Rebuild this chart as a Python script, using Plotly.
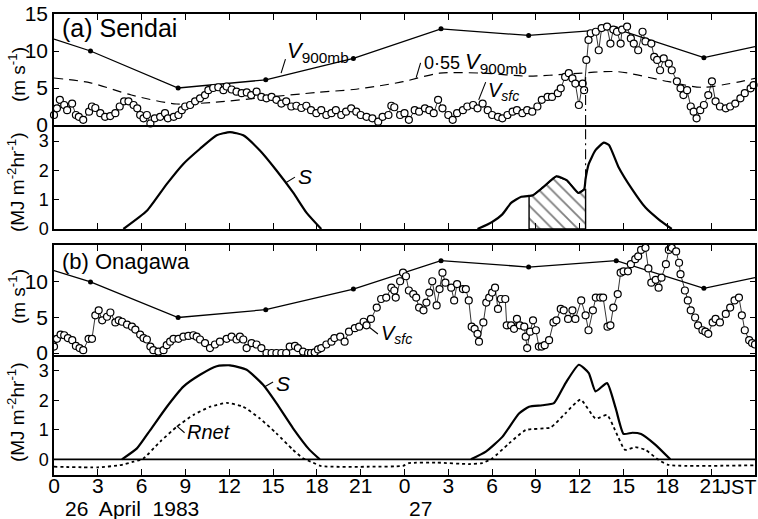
import plotly.graph_objects as go

# ---------------- data ----------------
tick_hours = [0, 3, 6, 9, 12, 15, 18, 21, 24, 27, 30, 33, 36, 39, 42, 45]
tick_text = ['0', '3', '6', '9', '12', '15', '18', '21', '0', '3', '6', '9', '12', '15', '18', '21']

sounding_hours = [0, 2.5, 8.5, 14.5, 20.5, 26.5, 32.5, 38.5, 44.5, 48]
v900 = [11.6, 10.0, 5.0, 6.1, 9.0, 13.0, 12.1, 13.0, 9.1, 10.6]

v055_hours = [0, 2.5, 5.3, 8.4, 11.1, 14.5, 18.0, 20.5, 22.3, 23.9, 26.4, 29.4, 32.5, 35.3, 38.6, 42.1, 44.4, 48]
v055 = [6.35, 5.7, 4.05, 2.84, 3.1, 3.74, 4.4, 4.8, 5.3, 5.85, 7.0, 7.0, 6.6, 6.9, 7.2, 5.85, 5.1, 6.3]

sendai_vsfc_hours = [
    0.0, 0.2, 0.4, 0.7, 0.9, 1.24, 1.5, 1.7, 2.0, 2.4, 2.6, 2.83, 3.17, 3.5, 3.85, 4.2, 4.5, 4.8, 5.1, 5.45,
    5.7, 5.9, 6.13, 6.36, 6.6, 6.9, 7.27, 7.6, 7.8, 8.2, 8.52, 8.75, 8.98, 9.32, 9.66, 10.0, 10.34, 10.57, 10.9, 11.25,
    11.6, 11.82, 12.16, 12.5, 12.85, 13.2, 13.5, 13.87, 14.2, 14.55, 14.9, 15.23, 15.57, 15.9, 16.25, 16.6, 16.94, 17.28, 17.6, 17.96,
    18.3, 18.65, 19.0, 19.3, 19.67, 20.0, 20.35, 20.7, 21.0, 21.4,
    21.8, 22.2, 22.5, 22.9, 23.1, 23.3, 23.7, 24.0, 24.3, 24.7, 25.0, 25.4, 25.7, 26.0, 26.3, 26.6, 27.0, 27.3, 27.6, 28.0,
    28.3, 28.7, 29.0, 29.35, 29.7, 30.0, 30.4, 30.7, 31.05, 31.4, 31.7, 32.07, 32.4, 32.75, 33.1, 33.4, 33.8, 34.1, 34.5, 34.7,
    35.0, 35.25, 35.5, 35.7, 35.94, 36.2, 36.3, 36.45, 36.6, 36.75, 37.1, 37.3, 37.5, 37.87, 38.1, 38.3, 38.55, 38.8, 38.9, 39.24,
    39.5, 39.7, 40.0, 40.3, 40.5, 40.9, 41.1, 41.3, 41.5, 41.75, 42.1, 42.3, 42.65, 42.9, 43.1, 43.35, 43.6, 43.8, 44.0, 44.25,
    44.5, 44.8, 45.05, 45.3, 45.6, 46.0, 46.3, 46.65, 47.0, 47.3, 47.7, 47.9]
sendai_vsfc = [
    1.35, 2.25, 3.4, 2.7, 2.0, 2.9, 1.35, 1.1, 0.7, 1.8, 2.5, 2.3, 1.6, 1.1, 1.2, 1.6, 2.5, 3.2, 3.2, 2.7,
    2.25, 1.35, 0.9, 1.35, 0.2, 0.9, 1.1, 1.6, 0.9, 1.1, 1.35, 2.0, 2.5, 2.7, 3.2, 3.6, 4.05, 4.7, 5.0, 5.1,
    4.7, 5.2, 4.8, 4.5, 4.3, 4.4, 4.05, 4.5, 3.8, 3.6, 3.8, 3.4, 2.9, 3.2, 2.5, 2.6, 2.3, 2.6, 2.0, 1.6,
    2.0, 1.35, 1.6, 2.0, 1.35, 1.8, 2.25, 1.8, 1.35, 1.1,
    0.9, 0.45, 1.1, 1.35, 2.6, 2.4, 1.35, 1.6, 0.7, 2.0, 1.8, 2.25, 2.0, 1.6, 3.4, 2.25, 1.35, 0.7, 1.6, 2.0,
    2.5, 2.7, 2.25, 2.9, 2.0, 1.35, 1.1, 0.9, 1.35, 1.8, 2.0, 1.6, 2.0, 1.8, 2.5, 3.4, 3.8, 3.8, 4.3, 4.95,
    6.5, 7.0, 6.3, 5.6, 2.7, 5.6, 4.7, 8.8, 11.5, 12.4, 12.6, 10.1, 13.1, 13.3, 11.0, 12.9, 12.6, 11.0, 12.9, 13.3,
    11.7, 11.0, 10.1, 12.6, 11.3, 11.0, 9.2, 8.8, 7.4, 9.0, 8.3, 7.4, 5.9, 4.95, 4.05, 4.7, 2.5, 1.8, 0.9, 2.0,
    2.7, 4.05, 5.9, 3.2, 2.5, 2.25, 2.5, 2.9, 3.6, 4.3, 4.95, 5.4]

onagawa_vsfc_hours = [
    0.0, 0.2, 0.45, 0.7, 0.95, 1.25, 1.5, 1.75, 2.0, 2.37, 2.6, 2.83, 3.06, 3.3, 3.63, 3.86, 4.2, 4.43, 4.66, 5.0,
    5.34, 5.57, 5.9, 6.13, 6.36, 6.6, 6.8, 7.15, 7.5, 7.72, 7.95, 8.18, 8.52, 8.86, 9.2, 9.54, 9.77, 10.0, 10.34, 10.68,
    11.02, 11.36, 11.82, 12.16, 12.5, 12.73, 12.96, 13.19, 13.53, 13.87, 14.2, 14.55, 14.9, 15.23, 15.57, 15.9, 16.14, 16.5, 16.7, 17.05,
    17.4, 17.6, 17.85, 18.08, 18.3, 18.65, 19.0, 19.2, 19.6, 19.9, 20.2, 20.6, 20.9, 21.2, 21.4,
    21.7, 22.1, 22.4, 22.75, 23.1, 23.3, 23.4, 23.7, 23.9, 24.1, 24.3, 24.6, 24.8, 25.0, 25.3, 25.5, 25.7, 25.9, 26.2, 26.4,
    26.6, 26.8, 27.2, 27.4, 27.6, 28.0, 28.2, 28.4, 28.6, 28.8, 29.0, 29.1, 29.4, 29.6, 29.8, 30.0, 30.2, 30.4, 30.6, 30.9,
    31.0, 31.3, 31.5, 31.7, 31.9, 32.2, 32.3, 32.4, 32.6, 32.8, 33.0, 33.2, 33.4, 33.6, 33.9, 34.2, 34.4, 34.7, 34.9, 35.2,
    35.5, 35.7, 36.1, 36.4, 36.6, 36.9, 37.1, 37.4, 37.6, 37.9, 38.1, 38.3, 38.6, 38.8, 39.0, 39.3, 39.5, 39.8, 40.0, 40.2,
    40.5, 40.7, 40.9, 41.2, 41.4, 41.6, 41.9, 42.1, 42.3, 42.6, 42.8, 42.9, 43.2, 43.4, 43.6, 43.9, 44.1, 44.4, 44.6, 44.8,
    45.1, 45.3, 45.6, 46.0, 46.3, 46.6, 46.9, 47.1, 47.3, 47.6, 47.8, 48.0]
onagawa_vsfc = [
    0.9, 2.0, 2.6, 2.5, 2.1, 1.8, 1.0, 0.7, 0.4, 2.0, 2.0, 5.3, 6.0, 4.6, 5.1, 5.7, 4.3, 4.6, 4.4, 4.0,
    3.7, 3.3, 2.6, 2.1, 1.9, 0.9, 0.4, 0.2, 0.4, 1.1, 1.6, 2.0, 2.0, 2.3, 2.4, 2.5, 2.3, 1.9, 1.4, 0.7,
    1.2, 1.6, 2.0, 2.3, 1.9, 2.3, 1.9, 0.7, 1.4, 1.2, 0.7, 0.0, 0.0, 0.0, 0.0, 0.0, 0.9, 1.0, 0.7, 0.2,
    0.0, 0.0, 0.1, 0.5, 0.7, 1.2, 1.6, 2.1, 2.3, 1.6, 3.0, 3.5, 3.7, 4.4, 3.9,
    4.8, 6.4, 7.6, 7.8, 9.2, 8.8, 7.8, 10.1, 11.3, 10.8, 8.8, 8.3, 7.8, 6.4, 6.0, 7.1, 8.5, 10.1, 6.7, 9.0,
    11.3, 9.9, 9.2, 7.4, 9.7, 9.0, 9.0, 7.4, 3.7, 3.4, 2.7, 1.6, 4.3, 7.1, 7.8, 8.5, 9.2, 6.2, 7.6, 7.6,
    3.9, 3.9, 3.4, 4.8, 3.9, 3.7, 2.3, 0.7, 3.0, 4.6, 3.2, 0.9, 0.9, 1.1, 1.8, 4.3, 4.6, 6.2, 6.0, 4.8,
    6.0, 4.8, 7.4, 5.3, 3.2, 6.0, 7.8, 7.8, 7.8, 3.7, 3.9, 6.4, 8.3, 11.3, 11.5, 11.5, 12.5, 13.2, 13.6, 14.5,
    14.8, 11.9, 9.9, 10.3, 9.2, 10.6, 12.5, 14.5, 14.8, 14.3, 12.7, 11.1, 8.8, 7.4, 6.0, 5.0, 3.9, 3.2, 3.0, 2.7,
    4.3, 4.8, 4.3, 5.5, 6.4, 7.4, 7.8, 5.3, 3.2, 1.8, 1.4, 1.2]

# solar radiation S (daylight only; None separates the two days)
sendai_s_hours = [4.75, 6.36, 7.73, 8.87, 10.0, 11.14, 12.05, 12.96, 14.1, 15.25, 16.38, 17.3, 18.3, None,
                  29.0, 30.0, 30.7, 31.3, 32.0, 32.53, 32.8, 33.5, 34.4, 35.1, 35.9, 36.3, 36.4, 36.6,
                  37.08, 37.65, 38.0, 38.67, 39.58, 40.5, 41.4, 42.3]
sendai_s = [0, 0.62, 1.54, 2.23, 2.74, 3.2, 3.31, 3.2, 2.68, 1.99, 1.24, 0.55, 0, None,
            0, 0.24, 0.5, 0.89, 1.1, 1.13, 1.15, 1.43, 1.8, 1.67, 1.23, 1.35, 1.72, 2.2,
            2.69, 2.95, 2.87, 2.1, 1.36, 0.73, 0.33, 0]
hatch_start, hatch_end = 32.53, 36.4

onagawa_s_hours = [4.65, 5.68, 6.59, 7.73, 8.86, 10.0, 11.14, 12.05, 13.19, 14.32, 15.23, 16.37, 17.5, 18.2, None,
                   28.55, 29.57, 30.7, 31.84, 32.53, 33.43, 34.23, 35.03, 35.94, 36.62, 37.08, 37.87, 38.46,
                   39.0, 39.6, 40.2, 41.17, 42.2]
onagawa_s = [0, 0.37, 0.99, 1.78, 2.46, 2.86, 3.15, 3.18, 3.03, 2.52, 1.9, 1.05, 0.32, 0, None,
             0, 0.26, 0.76, 1.55, 1.78, 1.83, 1.9, 2.58, 3.2, 2.92, 2.3, 2.58, 1.73,
             0.86, 0.9, 0.86, 0.5, 0]
s_night_hours = [0, 48]
s_night = [0, 0]

onagawa_rnet_hours = [0, 3.0, 4.5, 5.45, 6.1, 7.27, 8.4, 9.54, 10.7, 11.82, 12.95, 14.1, 15.23, 16.37, 17.05, 17.73,
                      18.3, 21.6, 23.9, 24.3, 26.2, 28.4, 29.3, 30.0, 31.16, 32.3, 34.0, 35.0, 36.05, 37.08,
                      37.87, 38.46, 39.1, 39.8, 40.5, 41.4, 42.1, 48]
onagawa_rnet = [-0.25, -0.27, -0.2, -0.08, 0.02, 0.6, 1.1, 1.5, 1.78, 1.91, 1.78, 1.38, 0.88, 0.32, 0.04, -0.11,
                -0.23, -0.25, -0.22, -0.13, -0.11, -0.16, -0.13, 0.03, 0.54, 0.99, 1.08, 1.55, 2.02, 1.38,
                1.5, 0.94, 0.32, 0.41, 0.32, -0.02, -0.19, -0.2]

# ---------------- figure ----------------
W, H = 758, 519
ML, MR, MT, MB = 54, 1, 14, 44
PW, PH = W - ML - MR, H - MT - MB


def fy(py):
    return (H - MB - py) / PH


def fx(px):
    return (px - ML) / PW


FONT = "Liberation Sans, Arial, sans-serif"
fig = go.Figure()

# --- Sendai wind (x / y) ---
fig.add_trace(go.Scatter(x=sounding_hours, y=v900, mode='lines', line=dict(color='black', width=1.3),
                         xaxis='x', yaxis='y'))
fig.add_trace(go.Scatter(x=sounding_hours[1:-1], y=v900[1:-1], mode='markers',
                         marker=dict(color='black', size=5), xaxis='x', yaxis='y'))
fig.add_trace(go.Scatter(x=v055_hours, y=v055, mode='lines', line=dict(color='black', width=1.2, dash='9px,6px',
                         shape='spline', smoothing=0.8), xaxis='x', yaxis='y'))
n = min(len(sendai_vsfc_hours), len(sendai_vsfc))
fig.add_trace(go.Scatter(x=sendai_vsfc_hours[:n], y=sendai_vsfc[:n], mode='lines+markers',
                         line=dict(color='black', width=0.8),
                         marker=dict(symbol='circle', color='white', size=7, line=dict(color='black', width=1.2)),
                         cliponaxis=False, xaxis='x', yaxis='y'))

# --- Sendai radiation (x2 / y2) ---
pairs = [(t, v) for t, v in zip(sendai_s_hours, sendai_s) if t is not None and hatch_start <= t < hatch_end]
hx = [p[0] for p in pairs]
hy = [p[1] for p in pairs]
fig.add_trace(go.Scatter(x=hx + [hatch_end, hatch_end, hatch_start, hatch_start], y=hy + [hy[-1], 0, 0, hy[0]],
                         mode='lines', fill='toself', line=dict(color='black', width=1.4),
                         fillpattern=dict(shape='\\', fgcolor='black', bgcolor='white', size=9, solidity=0.2),
                         xaxis='x2', yaxis='y2'))
fig.add_trace(go.Scatter(x=sendai_s_hours, y=sendai_s, mode='lines', connectgaps=False,
                         line=dict(color='black', width=2.2, shape='spline', smoothing=0.5),
                         xaxis='x2', yaxis='y2'))

# --- Onagawa wind (x3 / y3) ---
fig.add_trace(go.Scatter(x=sounding_hours, y=v900, mode='lines', line=dict(color='black', width=1.3),
                         xaxis='x3', yaxis='y3'))
fig.add_trace(go.Scatter(x=sounding_hours[1:-1], y=v900[1:-1], mode='markers',
                         marker=dict(color='black', size=5), xaxis='x3', yaxis='y3'))
m = min(len(onagawa_vsfc_hours), len(onagawa_vsfc))
fig.add_trace(go.Scatter(x=onagawa_vsfc_hours[:m], y=onagawa_vsfc[:m], mode='lines+markers',
                         line=dict(color='black', width=0.8),
                         marker=dict(symbol='circle', color='white', size=7, line=dict(color='black', width=1.2)),
                         xaxis='x3', yaxis='y3'))

# --- Onagawa radiation (x4 / y4) ---
fig.add_trace(go.Scatter(x=s_night_hours, y=s_night, mode='lines', line=dict(color='black', width=1.6),
                         xaxis='x4', yaxis='y4'))
fig.add_trace(go.Scatter(x=onagawa_s_hours, y=onagawa_s, mode='lines', connectgaps=False,
                         line=dict(color='black', width=2.2, shape='spline', smoothing=0.5),
                         xaxis='x4', yaxis='y4'))
fig.add_trace(go.Scatter(x=onagawa_rnet_hours, y=onagawa_rnet, mode='lines',
                         line=dict(color='black', width=1.8, dash='3px,3px', shape='spline', smoothing=0.5),
                         xaxis='x4', yaxis='y4'))

# ---------------- axes ----------------
dom_wa = [fy(125), fy(14)]
dom_ra = [fy(229), fy(125)]
dom_wb = [fy(355), fy(245)]
dom_rb = [fy(475), fy(355)]

xcommon = dict(range=[0, 48], tickvals=tick_hours, ticks='inside', ticklen=6, tickwidth=1.2, tickcolor='black',
               showline=True, linecolor='black', linewidth=1.5, showgrid=False, zeroline=False)
ycommon = dict(ticks='inside', ticklen=5, tickwidth=1.2, tickcolor='black', showline=True, linecolor='black',
               linewidth=1.5, mirror='ticks', showgrid=False, zeroline=False)

fig.update_layout(
    width=W, height=H, margin=dict(l=ML, r=MR, t=MT, b=MB),
    paper_bgcolor='white', plot_bgcolor='white', showlegend=False,
    font=dict(family=FONT, color='black'),
    xaxis=dict(xcommon, anchor='y', side='top', mirror=True, showticklabels=False),
    xaxis2=dict(xcommon, anchor='y2', matches='x', mirror=False, showticklabels=False),
    xaxis3=dict(xcommon, anchor='y3', matches='x', side='top', mirror=True, showticklabels=False),
    xaxis4=dict(xcommon, anchor='y4', matches='x', mirror=False, ticktext=tick_text,
                tickfont=dict(size=21), ticklabelstandoff=-9),
    yaxis=dict(ycommon, domain=dom_wa, anchor='x', range=[0, 15], tickvals=[0, 5, 10, 15], tickfont=dict(size=21)),
    yaxis2=dict(ycommon, domain=dom_ra, anchor='x2', range=[0, 3.55], tickvals=[0, 1, 2, 3], tickfont=dict(size=18)),
    yaxis3=dict(ycommon, domain=dom_wb, anchor='x3', range=[-0.28, 15.2], tickvals=[0, 5, 10], tickfont=dict(size=21)),
    yaxis4=dict(ycommon, domain=dom_rb, anchor='x4', range=[-0.53, 3.53], tickvals=[0, 1, 2, 3], tickfont=dict(size=18)),
)

# ---------------- shapes (leaders, dash-dot marker) ----------------
shapes = []


def seg(x0, y0, x1, y1, xr, yr, width=1.1, dash=None):
    d = dict(type='line', x0=x0, y0=y0, x1=x1, y1=y1, xref=xr, yref=yr,
             line=dict(color='black', width=width))
    if dash:
        d['line']['dash'] = dash
    shapes.append(d)


seg(36.4, 0, 36.4, 6.5, 'x', 'y', 1.1, '10px,4px,2px,4px')
seg(36.4, 1.7, 36.4, 3.55, 'x2', 'y2', 1.1, '10px,4px,2px,4px')
seg(15.55, 7.0, 15.85, 8.9, 'x', 'y')           # V900mb leader
seg(25.1, 8.4, 24.8, 6.4, 'x', 'y')             # 0.55 V900mb leader
seg(29.56, 5.8, 29.08, 3.4, 'x', 'y')           # Vsfc leader (Sendai)
seg(15.84, 1.57, 16.5, 1.77, 'x2', 'y2')        # S leader (Sendai)
seg(21.57, 3.66, 22.18, 2.68, 'x3', 'y3')       # Vsfc leader (Onagawa)
seg(14.4, 2.45, 15.0, 2.62, 'x4', 'y4')         # S leader (Onagawa)
seg(8.4, 1.13, 8.94, 0.9, 'x4', 'y4')           # Rnet leader
fig.update_layout(shapes=shapes)

# ---------------- annotations ----------------
ann = []


def txt(text, x, y, xr, yr, size, xanchor='left', angle=0, family=FONT):
    ann.append(dict(text=text, x=x, y=y, xref=xr, yref=yr, showarrow=False, xanchor=xanchor,
                    yanchor='middle', textangle=angle, font=dict(size=size, family=family, color='black')))


txt('(a) Sendai', fx(60), fy(28), 'paper', 'paper', 25)
txt('(b) Onagawa', fx(60), fy(261), 'paper', 'paper', 22)
txt('<i>V</i><sub>900mb</sub>', 15.8, 9.9, 'x', 'y', 22)
txt("<span style='font-size:18px'>0·55 </span><i>V</i><sub>900mb</sub>", 25.2, 8.4, 'x', 'y', 22)
txt('<i>V<sub>sfc</sub></i>', 29.6, 4.5, 'x', 'y', 20)
txt('<i>S</i>', 16.6, 1.8, 'x2', 'y2', 21)
txt('<i>V<sub>sfc</sub></i>', 22.25, 2.6, 'x3', 'y3', 20)
txt('<i>S</i>', 15.05, 2.55, 'x4', 'y4', 21)
txt('<i>Rnet</i>', 8.94, 0.93, 'x4', 'y4', 20)

txt('(m s<sup>-1</sup>)', fx(17), fy(75), 'paper', 'paper', 19, 'center', -90)
txt('(MJ m<sup>-2</sup>hr<sup>-1</sup>)', fx(16), fy(182), 'paper', 'paper', 19, 'center', -90)
txt('(m s<sup>-1</sup>)', fx(17), fy(297), 'paper', 'paper', 19, 'center', -90)
txt('(MJ m<sup>-2</sup>hr<sup>-1</sup>)', fx(16), fy(412), 'paper', 'paper', 19, 'center', -90)

txt('26&nbsp; April&nbsp; 1983', fx(132), fy(508), 'paper', 'paper', 21, 'center')
txt('27', fx(422), fy(508), 'paper', 'paper', 21, 'center')
txt('JST', fx(741), fy(487), 'paper', 'paper', 20, 'center')
fig.update_layout(annotations=ann)

fig.write_html("out.html")
